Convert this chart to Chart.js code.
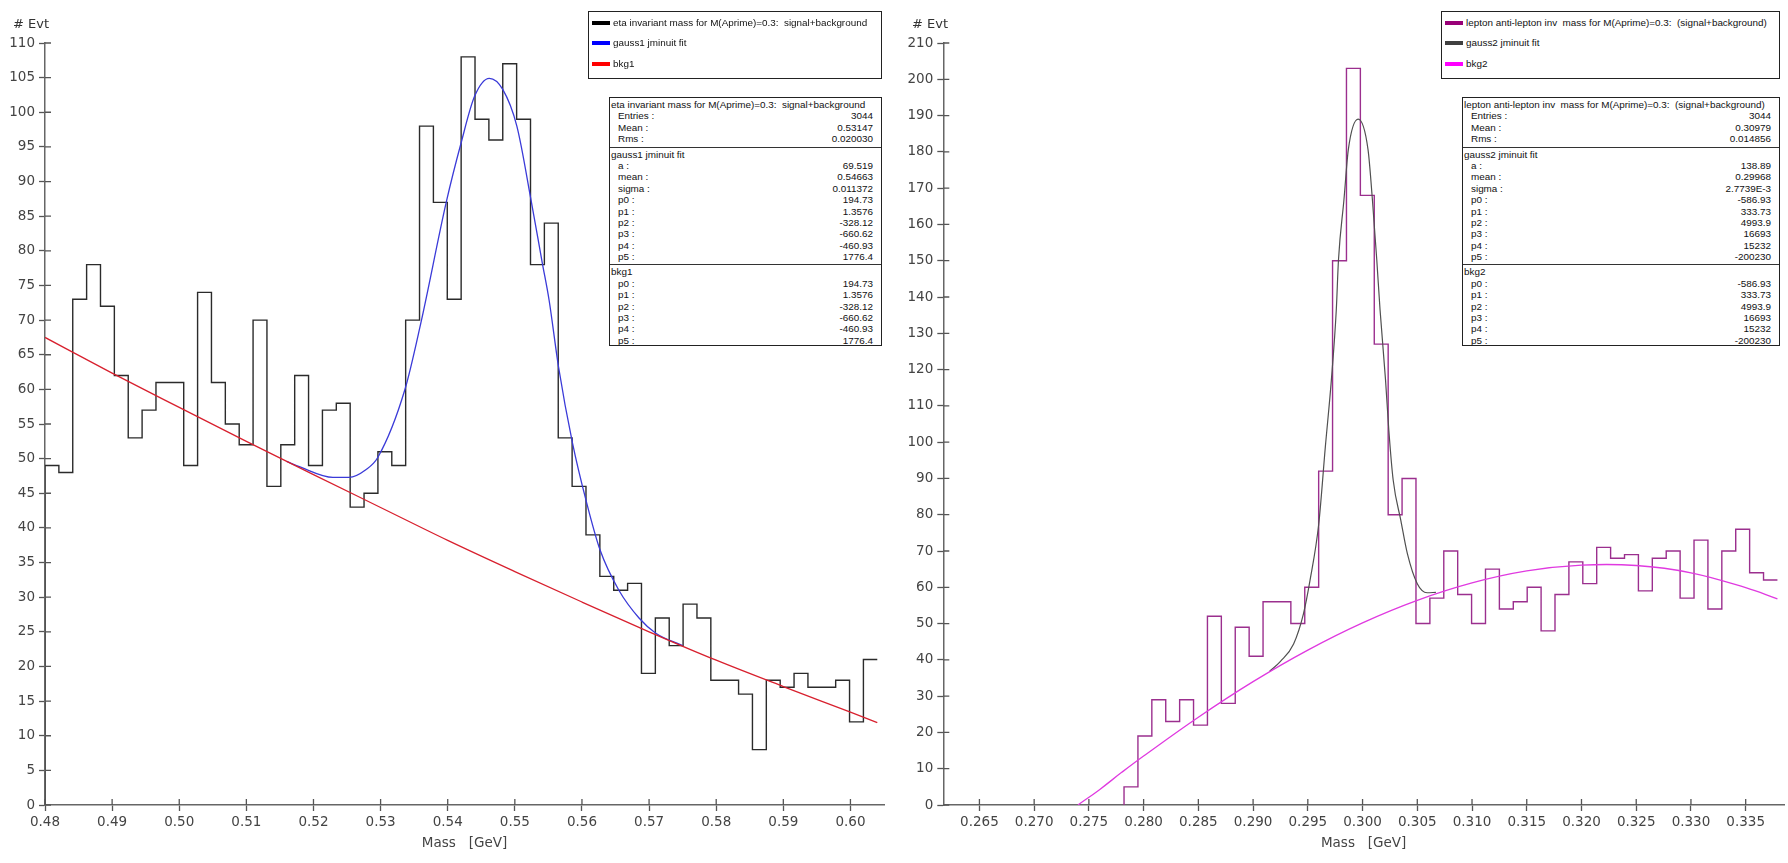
<!DOCTYPE html>
<html>
<head>
<meta charset="utf-8">
<script src="https://cdn.jsdelivr.net/npm/chart.js@4.4.1/dist/chart.umd.min.js"></script>
<style>
  body { margin: 0; background: #fff; width: 1788px; height: 863px; overflow: hidden; position: relative; }
  canvas { position: absolute; top: 0; }
  .ytitle { position: absolute; top: 16px; font: 13px "DejaVu Sans", sans-serif; color: #333; }
  .box { position: absolute; box-sizing: border-box; border: 1px solid #222; background: #fff;
         font: 9.9px "Liberation Sans", Arial, sans-serif; color: #111; white-space: pre; overflow: hidden; }
  .legend .row { height: 20.3px; line-height: 20.3px; position: relative; padding-left: 24px; }
  .legend .row i { position: absolute; left: 3px; top: 8px; width: 18px; height: 4px; }
  .legend { padding-top: 1px; }
  .stats .sec { padding: 1px 0 2px 0; border-bottom: 1px solid #333; }
  .stats .sec:last-child { border-bottom: none; }
  .stats .r { height: 11.4px; line-height: 11.4px; display: flex; justify-content: space-between; padding: 0 8px 0 8px; }
  .stats .t { height: 11.4px; line-height: 11.4px; padding-left: 1px; }
</style>
</head>
<body>
<canvas id="etaChart" width="900" height="863" style="left:0"></canvas>
<canvas id="leptonChart" width="888" height="863" style="left:900px"></canvas>
<div class="ytitle" style="left:13px"># Evt</div>
<div class="ytitle" style="left:912px"># Evt</div>
<div class="box legend" id="etaLegend" style="left:588px;top:11px;width:294px;height:68px"></div>
<div class="box stats" id="etaStats" style="left:609px;top:97px;width:273px;height:249px"></div>
<div class="box legend" id="leptonLegend" style="left:1441px;top:11px;width:339px;height:68px"></div>
<div class="box stats" id="leptonStats" style="left:1462px;top:97px;width:318px;height:249px"></div>
<script>
// eta histogram: 60 bins over the axis range
const etaRange = [0.48, 0.604];
const etaCounts = [49, 48, 73, 78, 72, 62, 53, 57, 61, 61,
                   49, 74, 61, 55, 52, 70, 46, 52, 62, 49,
                   57, 58, 43, 45, 51, 49, 70, 98, 87, 73,
                   108, 99, 96, 107, 99, 78, 84, 53, 46, 39,
                   33, 31, 32, 19, 27, 23, 29, 27, 18, 18,
                   16, 8, 18, 17, 19, 17, 17, 18, 12, 21];
const gauss1X = [0.516, 0.518, 0.5229, 0.5253, 0.5278, 0.5296, 0.5336, 0.5360, 0.5398, 0.5420, 0.5440, 0.5462,
                 0.5482, 0.5503, 0.5524, 0.5541, 0.5551, 0.5565, 0.5586, 0.5606, 0.5627, 0.5655, 0.5685, 0.5710, 0.5750];
const gauss1Y = [49.6, 48.8, 47.3, 47.3, 48.4, 50.2, 59.9, 69.6, 87.1, 95.6, 102.3, 104.9,
                 103.3, 98.0, 87.4, 78.2, 72.9, 63.3, 52.2, 44.0, 36.8, 31.0, 27.0, 24.8, 23.0];
const bkg1X = [0.48, 0.49, 0.50, 0.51, 0.52, 0.53, 0.54, 0.55, 0.56, 0.57, 0.58, 0.59, 0.60, 0.604];
const bkg1Y = [67.5, 62.35, 57.4, 52.5, 47.7, 42.95, 38.2, 33.7, 29.3, 25.0, 20.9, 17.1, 13.4, 11.9];
const etaXTicks = [0.48, 0.49, 0.50, 0.51, 0.52, 0.53, 0.54, 0.55, 0.56, 0.57, 0.58, 0.59, 0.60];
const etaXLabels = ['0.48', '0.49', '0.50', '0.51', '0.52', '0.53', '0.54', '0.55', '0.56', '0.57', '0.58', '0.59', '0.60'];
const etaYTicks = [0, 5, 10, 15, 20, 25, 30, 35, 40, 45, 50, 55, 60, 65, 70, 75, 80, 85, 90, 95, 100, 105, 110];

// lepton anti-lepton histogram: 60 bins over the axis range
const leptonRange = [0.2617, 0.3379];
const leptonCounts = [0, 0, 0, 0, 0, 0, 0, 0, 0, 0,
                      0, 0, 0, 5, 19, 29, 23, 29, 22, 52,
                      28, 49, 41, 56, 56, 50, 60, 92, 150, 203,
                      168, 127, 80, 90, 50, 57, 70, 58, 50, 65,
                      54, 56, 60, 48, 58, 67, 61, 71, 68, 69,
                      59, 68, 70, 57, 73, 54, 70, 76, 64, 62];
const gauss2X = [0.2915, 0.2925, 0.2937, 0.2946, 0.2952, 0.2960, 0.2966, 0.29715, 0.2976, 0.2978, 0.2983, 0.2987, 0.2996,
                 0.3005, 0.3009, 0.3013, 0.3016, 0.3021, 0.3024, 0.3028, 0.3035, 0.3041, 0.3050, 0.3059, 0.3067];
const gauss2Y = [36.8, 39.6, 44.4, 52.7, 61.9, 77.5, 98.7, 117.1, 136.4, 150.2, 166.8, 180.6, 189.0,
                 180.6, 166.8, 150.2, 136.4, 117.1, 103.3, 89.5, 78.4, 69.2, 61.0, 58.5, 58.6];
const bkg2X = [0.2740, 0.276, 0.278, 0.280, 0.285, 0.290, 0.295, 0.300, 0.305, 0.310,
               0.315, 0.320, 0.325, 0.330, 0.335, 0.3379];
const bkg2Y = [0, 4.3, 9.0, 13.5, 24.2, 34.0, 42.7, 50.2, 56.4, 61.2,
               64.5, 66.1, 66.0, 64.0, 59.9, 56.8];
const leptonXTicks = [0.265, 0.270, 0.275, 0.280, 0.285, 0.290, 0.295, 0.300, 0.305, 0.310, 0.315, 0.320, 0.325, 0.330, 0.335];
const leptonXLabels = ['0.265', '0.270', '0.275', '0.280', '0.285', '0.290', '0.295', '0.300', '0.305', '0.310', '0.315', '0.320', '0.325', '0.330', '0.335'];
const leptonYTicks = [0, 10, 20, 30, 40, 50, 60, 70, 80, 90, 100, 110, 120, 130, 140, 150, 160, 170, 180, 190, 200, 210];

const etaLegend = [
  ['eta invariant mass for M(Aprime)=0.3:  signal+background', '#000000'],
  ['gauss1 jminuit fit', '#0000ff'],
  ['bkg1', '#ff0000']
];
const etaStats = [
  ['eta invariant mass for M(Aprime)=0.3:  signal+background', [['Entries', '3044'], ['Mean', '0.53147'], ['Rms', '0.020030']]],
  ['gauss1 jminuit fit', [['a', '69.519'], ['mean', '0.54663'], ['sigma', '0.011372'], ['p0', '194.73'], ['p1', '1.3576'],
                          ['p2', '-328.12'], ['p3', '-660.62'], ['p4', '-460.93'], ['p5', '1776.4']]],
  ['bkg1', [['p0', '194.73'], ['p1', '1.3576'], ['p2', '-328.12'], ['p3', '-660.62'], ['p4', '-460.93'], ['p5', '1776.4']]]
];
const leptonLegend = [
  ['lepton anti-lepton inv  mass for M(Aprime)=0.3:  (signal+background)', '#990077'],
  ['gauss2 jminuit fit', '#404040'],
  ['bkg2', '#ff00ff']
];
const leptonStats = [
  ['lepton anti-lepton inv  mass for M(Aprime)=0.3:  (signal+background)', [['Entries', '3044'], ['Mean', '0.30979'], ['Rms', '0.014856']]],
  ['gauss2 jminuit fit', [['a', '138.89'], ['mean', '0.29968'], ['sigma', '2.7739E-3'], ['p0', '-586.93'], ['p1', '333.73'],
                          ['p2', '4993.9'], ['p3', '16693'], ['p4', '15232'], ['p5', '-200230']]],
  ['bkg2', [['p0', '-586.93'], ['p1', '333.73'], ['p2', '4993.9'], ['p3', '16693'], ['p4', '15232'], ['p5', '-200230']]]
];

// outline of a histogram, rising from zero at the first non-empty bin
function histogramPoints(range, counts) {
  const step = (range[1] - range[0]) / counts.length;
  const first = counts.findIndex(c => c > 0);
  const pts = [{ x: range[0] + first * step, y: 0 }];
  for (let i = first; i < counts.length; i++) pts.push({ x: range[0] + i * step, y: counts[i] });
  pts.push({ x: range[1], y: counts[counts.length - 1] });
  return pts;
}
const zip = (xs, ys) => xs.map((x, i) => ({ x, y: ys[i] }));

// tick marks that also cross into the plot, like the reference axes
const innerTicks = {
  id: 'innerTicks',
  afterDraw(chart) {
    const { ctx, chartArea, scales: { x, y } } = chart;
    ctx.save();
    ctx.strokeStyle = '#555';
    ctx.lineWidth = 1.3;
    ctx.beginPath();
    y.ticks.forEach(t => { const py = y.getPixelForValue(t.value); ctx.moveTo(chartArea.left, py); ctx.lineTo(chartArea.left + 6, py); });
    x.ticks.forEach(t => { const px = x.getPixelForValue(t.value); ctx.moveTo(px, chartArea.bottom); ctx.lineTo(px, chartArea.bottom - 6); });
    ctx.stroke();
    ctx.restore();
  }
};

const tickFont = { family: 'DejaVu Sans', size: 13.5 };

function makeChart(id, cfg) {
  new Chart(document.getElementById(id), {
    type: 'line',
    data: { datasets: cfg.datasets },
    plugins: [innerTicks],
    options: {
      responsive: false,
      animation: false,
      layout: { padding: { top: 43, right: cfg.padRight, left: 0, bottom: 0 } },
      plugins: { legend: { display: false }, tooltip: { enabled: false } },
      elements: { point: { radius: 0 } },
      scales: {
        x: {
          type: 'linear', min: cfg.xMin, max: cfg.xMax,
          afterFit: s => { s.height = 58; },
          afterBuildTicks: s => { s.ticks = cfg.xTicks.map(v => ({ value: v })); },
          ticks: { callback: (v, i) => cfg.xLabels[i], font: tickFont, color: '#444', padding: 3, maxRotation: 0, autoSkip: false },
          grid: { drawOnChartArea: false, tickLength: 6, tickColor: '#555', tickWidth: 1.3 },
          border: { color: '#666', width: 1.5 },
          title: { display: true, text: 'Mass   [GeV]', font: { family: 'DejaVu Sans', size: 13.5 }, color: '#444', padding: { top: 0, bottom: 11 } }
        },
        y: {
          type: 'linear', min: 0, max: cfg.yMax,
          afterFit: s => { s.width = cfg.yWidth; },
          afterBuildTicks: s => { s.ticks = cfg.yTicks.map(v => ({ value: v })); },
          ticks: { font: tickFont, color: '#444', padding: 4, autoSkip: false },
          grid: { drawOnChartArea: false, tickLength: 6, tickColor: '#555', tickWidth: 1.3 },
          border: { color: '#666', width: 1.5 }
        }
      }
    }
  });
}

makeChart('etaChart', {
  xMin: 0.48, xMax: 0.605, yMax: 110, yWidth: 45, padRight: 16,
  xTicks: etaXTicks, xLabels: etaXLabels, yTicks: etaYTicks,
  datasets: [
    { data: histogramPoints(etaRange, etaCounts), stepped: 'before', borderColor: '#2b2b2b', borderWidth: 1.4, order: 3 },
    { data: zip(gauss1X, gauss1Y), borderColor: '#3a3ad8', borderWidth: 1.3, cubicInterpolationMode: 'monotone', order: 2 },
    { data: zip(bkg1X, bkg1Y), borderColor: '#d8202e', borderWidth: 1.3, cubicInterpolationMode: 'monotone', order: 1 }
  ]
});

makeChart('leptonChart', {
  xMin: 0.2617, xMax: 0.3385, yMax: 210, yWidth: 43.3, padRight: 4,
  xTicks: leptonXTicks, xLabels: leptonXLabels, yTicks: leptonYTicks,
  datasets: [
    { data: histogramPoints(leptonRange, leptonCounts), stepped: 'before', borderColor: '#9b2f8e', borderWidth: 1.4, order: 3 },
    { data: zip(gauss2X, gauss2Y), borderColor: '#505050', borderWidth: 1.2, cubicInterpolationMode: 'monotone', order: 2 },
    { data: zip(bkg2X, bkg2Y), borderColor: '#e03ae0', borderWidth: 1.3, tension: 0.4, order: 1 }
  ]
});

function fillLegend(id, items) {
  document.getElementById(id).innerHTML = items.map(([label, color]) =>
    `<div class="row"><i style="background:${color}"></i>${label}</div>`).join('');
}
function fillStats(id, sections) {
  document.getElementById(id).innerHTML = sections.map(([title, rows]) =>
    `<div class="sec"><div class="t">${title}</div>` +
    rows.map(([k, v]) => `<div class="r"><span>${k} :</span><span>${v}</span></div>`).join('') + '</div>').join('');
}
fillLegend('etaLegend', etaLegend);
fillStats('etaStats', etaStats);
fillLegend('leptonLegend', leptonLegend);
fillStats('leptonStats', leptonStats);
</script>
</body>
</html>
